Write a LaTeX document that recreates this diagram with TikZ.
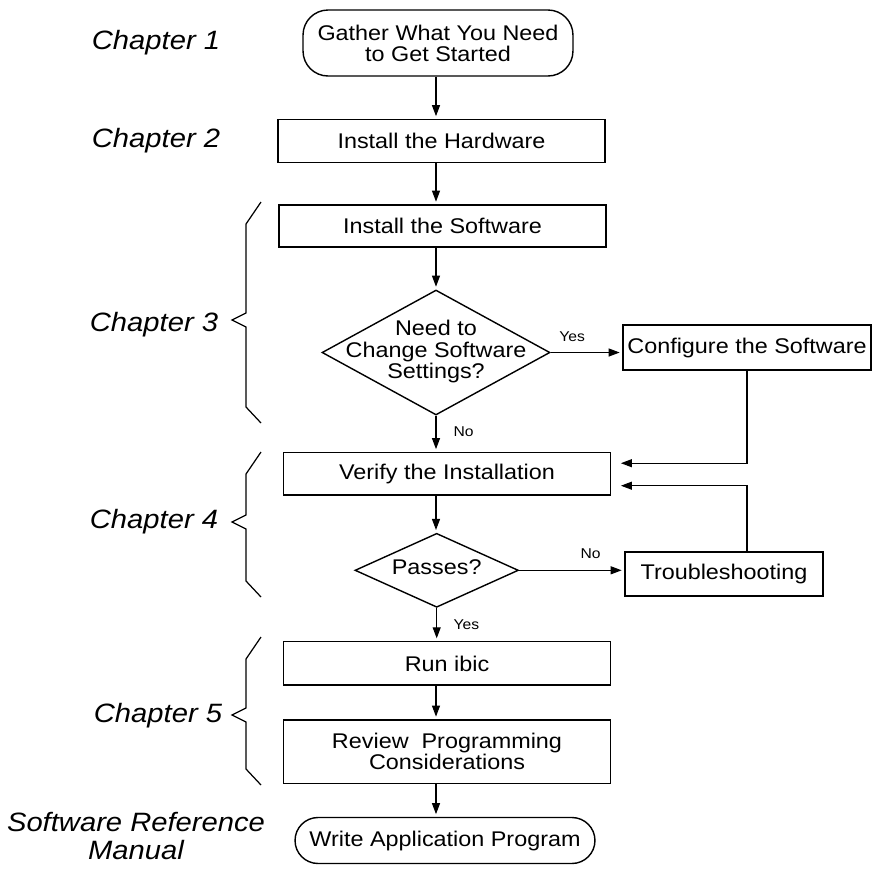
\documentclass[tikz,border=0pt]{standalone}
\usepackage{fontspec}
\setmainfont{Liberation Sans}[FakeStretch=1.1]
\usepackage{tikz}
\usetikzlibrary{arrows.meta,shapes.geometric,calc,positioning}
\newcommand{\boxfont}{\fontsize{12.1}{12}\selectfont}
\newcommand{\chapfont}{\fontsize{15.1}{15.5}\selectfont\itshape}
\newcommand{\ansfont}{\fontsize{8.1}{9}\selectfont}
\newcommand{\dtext}[1]{\makebox[0pt]{\begin{tabular}{@{}c@{}}#1\end{tabular}}}
\tikzstyle{edge}    =[-{Triangle[length=0.22cm,width=0.16cm]},
                      shorten >=1.5pt, line width=0.6pt]
\tikzstyle{task}    =[rectangle, draw, line width=0.8pt, align=center,
                      inner sep=0pt, minimum width=6.54cm, font=\boxfont]
\tikzstyle{term}    =[task]
\tikzstyle{decision}=[diamond, draw, line width=0.8pt, inner sep=0pt,
                      font=\boxfont]
\tikzstyle{chapter} =[align=center, font=\chapfont]
\tikzstyle{answer}  =[inner sep=0pt, font=\ansfont]
\tikzstyle{brace}   =[line width=0.7pt]

\begin{document}
\begin{tikzpicture}[x=0.02cm,y=-0.02cm]
    \useasboundingbox (0,0) rectangle (873,877);

    % main column
    \draw (438,43) node(start)[term, minimum width=5.4cm, minimum height=1.32cm,
        rounded corners=0.5cm]{Gather What You Need\\to Get Started};
    \draw (441.5,141) node(hw)[task, minimum height=0.86cm]{Install the Hardware};
    \draw (442.5,226) node(sw)[task, minimum height=0.84cm]{Install the Software};
    \draw (436,352.5) node(need)[decision, minimum width=4.56cm, minimum height=2.5cm]
        {\dtext{Need to\\Change Software\\Settings?}};
    \draw (447,473.7) node(ver)[task, minimum width=6.55cm, minimum height=0.85cm]{Verify the Installation};
    \draw (436.7,570.3) node(pass)[decision, minimum width=3.27cm, minimum height=1.48cm]
        {\dtext{Passes?}};
    \draw (447,663.4) node(run)[task, minimum width=6.55cm, minimum height=0.87cm]{Run ibic};
    \draw (447,751.7) node(rev)[task, minimum width=6.55cm, minimum height=1.27cm]
        {Review~~Programming\\Considerations};
    \draw (445,840.5) node(end)[term, minimum width=6cm, minimum height=0.92cm,
        rounded corners=0.46cm]{Write Application Program};

    % side steps
    \draw (747,347.5) node(cfg)[task, minimum width=4.96cm, minimum height=0.9cm]{Configure the Software};
    \draw (724,574) node(trb)[task, minimum width=3.96cm, minimum height=0.88cm]{Troubleshooting};

    % chapters
    \draw (156,43) node(ch1)[chapter]{Chapter 1};
    \draw (156,141) node(ch2)[chapter]{Chapter 2};
    \draw (154,325) node(ch3)[chapter]{Chapter 3};
    \draw (154,522) node(ch4)[chapter]{Chapter 4};
    \draw (158,716) node(ch5)[chapter]{Chapter 5};
    \draw (136,836) node(srm)[chapter]{Software Reference\\Manual};

    \foreach \t/\m/\b in {202/320/423,452/522/597,637/715/785}
        \draw[brace] (261,\t) -- (246,\t+22) -- (246,\m-7) -- (232,\m)
            -- (246,\m+7) -- (246,\b-16) -- (261,\b);

    % flow
    \foreach \i/\j in {start/hw,hw/sw,sw/need,ver/pass,run/rev,rev/end}
        \draw [edge] (\i.south -| need.south) to (\j.north -| need.south);

    \draw [edge] (need.south) to node[answer, pos=0.45, right=0.34cm]{No}
        (ver.north -| need.south);
    \draw [edge] (pass.south) to node[answer, pos=0.5, right=0.33cm]{Yes}
        (run.north -| pass.south);
    \draw [edge] (need.east) to node[answer, pos=0.3, above=0.2cm]{Yes}
        (need.east -| cfg.west);
    \draw [edge] (pass.east) to node[answer, pos=0.68, above=0.22cm]{No}
        (pass.east -| trb.west);

    \draw [edge, shorten >=0.19cm] (cfg.south) |- ([yshift=0.21cm]ver.east);
    \draw [edge, shorten >=0.19cm] (trb.north -| cfg.south) |- ([yshift=-0.24cm]ver.east);

\end{tikzpicture}
\end{document}
